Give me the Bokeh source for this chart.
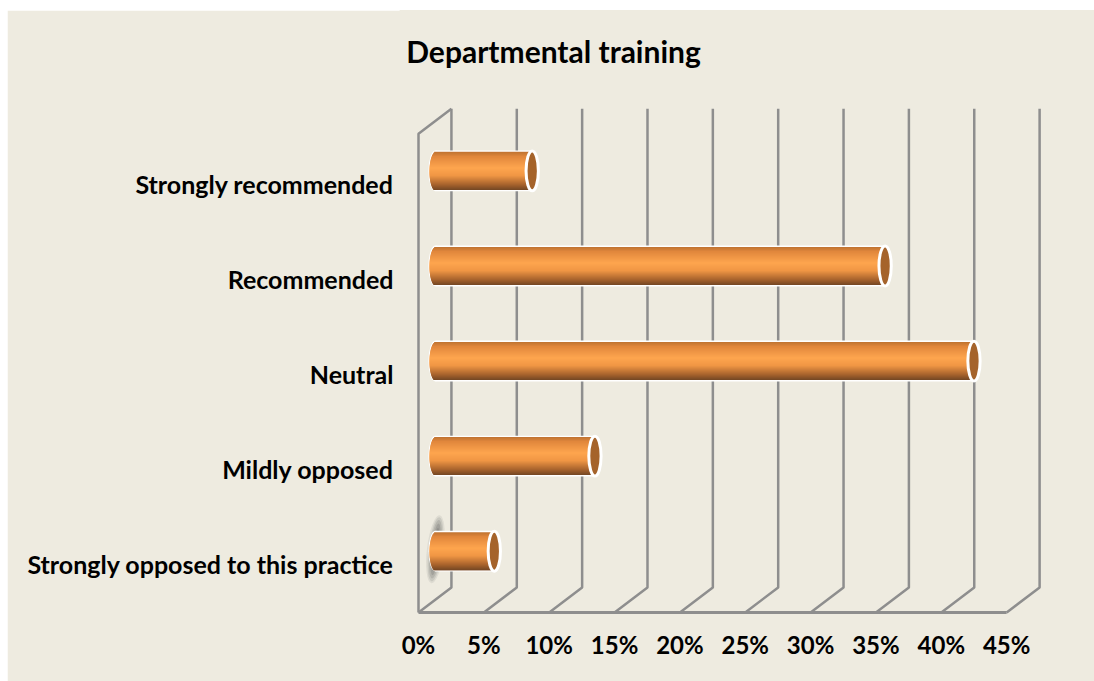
from bokeh.plotting import figure
from bokeh.embed import file_html
from bokeh.resources import INLINE
from bokeh.models import FixedTicker, Label

title_text = "Departmental training"
categories = ["Strongly opposed to this practice", "Mildly opposed", "Neutral", "Recommended", "Strongly recommended"]
values = [4.9, 12.6, 41.6, 34.8, 7.8]
tick_values = [0, 5, 10, 15, 20, 25, 30, 35, 40, 45]
tick_labels = ["0%", "5%", "10%", "15%", "20%", "25%", "30%", "35%", "40%", "45%"]

BG = "#EEEBE0"
GRID = "#8E8E8E"
FONT = "Lato"
DEPTH_X = 2.52      # 3-D depth in % units
DEPTH_Y = 0.263     # 3-D depth in category units
WALL_TOP = 4.53     # top of the front edge of wall
BOTTOM = -0.505     # floor front edge
BAR_BASE = 0.9      # where cylinders start
BAR_SHIFT = 0.14    # cylinder raised from category centre
BAR_H = 0.40
END_W = 0.92

p = figure(width=1087, height=671, output_backend="svg", toolbar_location=None,
           x_range=(-1.377, 51.72), y_range=(-0.526, 5.827),
           background_fill_color=BG, border_fill_color=BG,
           outline_line_color=BG, outline_line_width=2,
           min_border_left=393, min_border_right=0, min_border_bottom=67, min_border_top=0)
p.margin = (10, 0, 0, 7)

p.add_layout(Label(x=10.33, y=5.405, text=title_text, text_font=FONT, text_font_size="30px",
                   text_font_style="bold", text_color="#000000",
                   text_align="center", text_baseline="middle"))

p.grid.visible = False
for ax in (p.xaxis[0], p.yaxis[0]):
    ax.axis_line_color = None
    ax.major_tick_line_color = None
    ax.minor_tick_line_color = None
    ax.major_label_text_font = FONT
    ax.major_label_text_font_style = "bold"
    ax.major_label_text_font_size = "24px"
    ax.major_label_text_color = "#000000"

p.yaxis[0].major_label_text_font_size = "25px"
p.xaxis[0].ticker = FixedTicker(ticks=tick_values)
p.xaxis[0].major_label_overrides = {t: l for t, l in zip(tick_values, tick_labels)}
p.xaxis[0].major_label_standoff = 9
p.yaxis[0].ticker = FixedTicker(ticks=list(range(len(categories))))
p.yaxis[0].major_label_overrides = {i: c for i, c in enumerate(categories)}
p.yaxis[0].major_label_standoff = 1

# wall, floor and grid of the 3-D box
for t in tick_values:
    p.line([t, t + DEPTH_X, t + DEPTH_X], [BOTTOM, BOTTOM + DEPTH_Y, WALL_TOP + DEPTH_Y],
           line_color=GRID, line_width=2.5)
p.line([0, 0, DEPTH_X], [BOTTOM, WALL_TOP, WALL_TOP + DEPTH_Y], line_color=GRID, line_width=2.5)
p.line([0, tick_values[-1]], [BOTTOM, BOTTOM], line_color=GRID, line_width=3)

# blurred shadow behind the lowest cylinder
for w, h, a in [(1.3, 0.72, 0.10), (1.05, 0.68, 0.14), (0.85, 0.62, 0.17), (0.6, 0.55, 0.2), (0.4, 0.46, 0.22)]:
    p.ellipse([1.3], [BAR_SHIFT + 0.02], width=w, height=h, angle=-0.12,
              fill_color="#555555", fill_alpha=a, line_color=None)


def lerp(c1, c2, f):
    return tuple(round(a + (b - a) * f) for a, b in zip(c1, c2))


STOPS = [(0.0, (190, 115, 50)), (0.12, (225, 135, 60)), (0.42, (254, 165, 78)),
         (0.62, (240, 150, 68)), (0.85, (170, 100, 45)), (1.0, (115, 70, 35))]


def grad(f):
    for (f1, c1), (f2, c2) in zip(STOPS, STOPS[1:]):
        if f <= f2:
            return "#%02x%02x%02x" % lerp(c1, c2, (f - f1) / (f2 - f1))
    return "#%02x%02x%02x" % STOPS[-1][1]


N = 38
for i, v in enumerate(values):
    yc = i + BAR_SHIFT
    x0 = BAR_BASE + 0.4
    x1 = BAR_BASE + v
    # white outline
    p.ellipse([x0], [yc], width=END_W + 0.16, height=BAR_H + 0.03, fill_color="white", line_color=None)
    p.hbar([yc], left=[x0], right=[x1], height=BAR_H + 0.03, fill_color="white", line_color=None)
    # shaded body: slices overlap the next one so no seams appear
    step = BAR_H / N
    for k in range(N):
        f = (k + 0.5) / N
        d = 2 * f - 1
        r = (END_W / 2) * (1 - d * d) ** 0.5
        top = yc + BAR_H / 2 - step * k
        bottom = max(top - 2 * step, yc - BAR_H / 2)
        p.quad(left=[x0 - r], right=[x1], top=[top], bottom=[bottom], fill_color=grad(f), line_color=None)
    # open end
    p.ellipse([x1], [yc], width=END_W + 0.02, height=BAR_H + 0.02, fill_color="#A5632B",
              line_color="white", line_width=3)

html = file_html(p, INLINE).replace("</head>", "<style>html,body{overflow:hidden}</style></head>")
open("out.html", "w").write(html)
